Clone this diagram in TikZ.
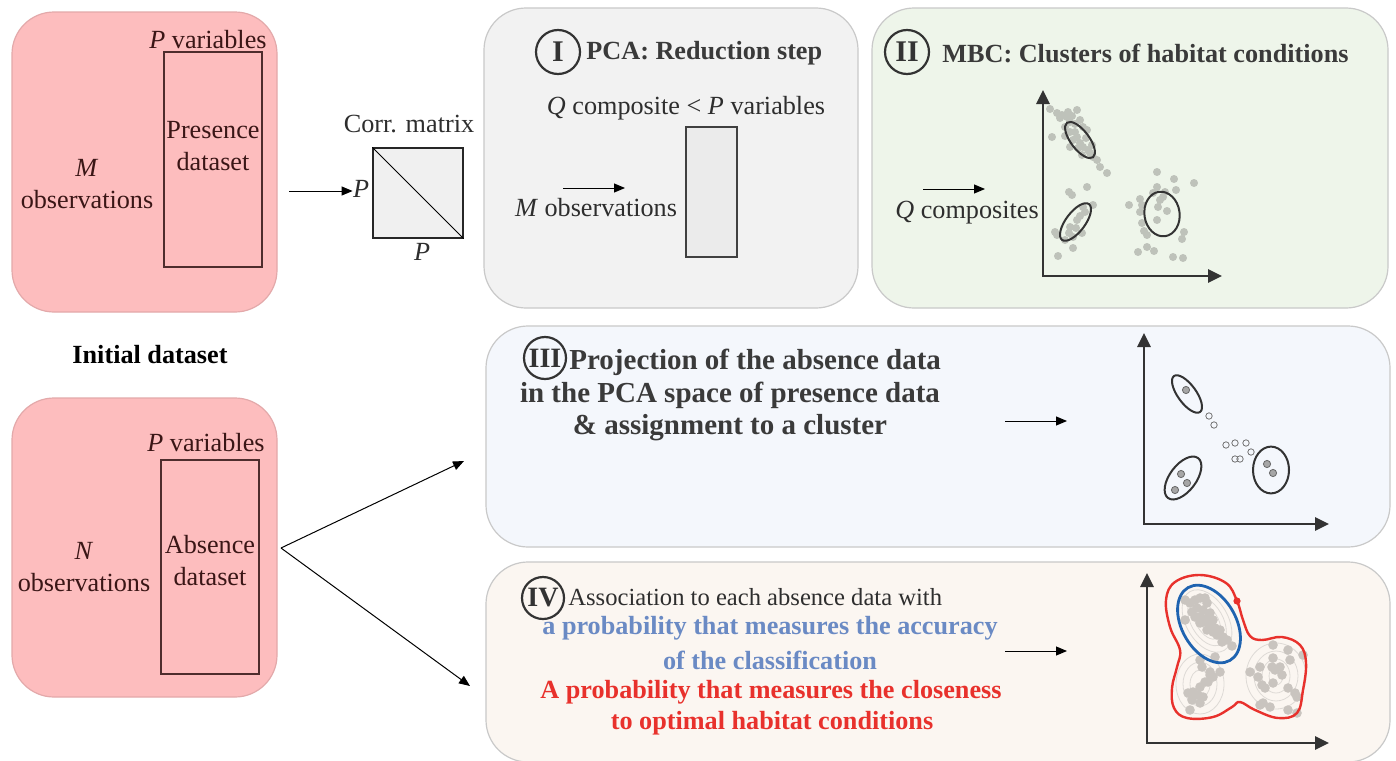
\documentclass[tikz,border=0pt]{standalone}
\usepackage{fontspec}
\setmainfont{Liberation Serif}
\usetikzlibrary{arrows.meta,shapes.geometric}
\definecolor{pinkf}{HTML}{FDBDBE}
\definecolor{pinkb}{HTML}{E3A9AA}
\definecolor{pinkt}{HTML}{3A1616}
\definecolor{bordc}{HTML}{C9C9C9}
\definecolor{pcaf}{HTML}{F2F2F2}
\definecolor{mbcf}{HTML}{EEF5EA}
\definecolor{iiif}{HTML}{F4F7FC}
\definecolor{ivf}{HTML}{FBF6F1}
\definecolor{matf}{HTML}{F0F0F0}
\definecolor{qrf}{HTML}{EBEBEB}
\definecolor{txtc}{HTML}{2E2E2E}
\definecolor{ttlc}{HTML}{3A3A3A}
\definecolor{axc}{HTML}{333333}
\definecolor{dotg}{HTML}{BEC2BA}
\definecolor{dotiv}{HTML}{C9C4BF}
\definecolor{contc}{HTML}{DEDAD6}
\definecolor{bluet}{HTML}{6A8AC4}
\definecolor{redt}{HTML}{E8312C}
\definecolor{bluel}{HTML}{1F63B0}
\definecolor{redl}{HTML}{E8312C}
\definecolor{darkdot}{HTML}{A6A6A6}
\begin{document}
\begin{tikzpicture}[x=0.5pt,y=-0.5pt,
  every node/.style={inner sep=0pt},
  txt/.style={font=\fontsize{13.1}{16}\selectfont, text=txtc},
  ptxt/.style={font=\fontsize{13.1}{16}\selectfont, text=pinkt},
  ttl/.style={font=\fontsize{13.1}{16}\selectfont\bfseries, text=ttlc},
  ttliii/.style={font=\fontsize{14.5}{16.5}\selectfont\bfseries, text=ttlc},
  panel/.style={rectangle, rounded corners=21pt, line width=0.6pt, draw=bordc},
  dsrect/.style={rectangle, draw=pinkt!90, line width=0.8pt},
  numc/.style={circle, draw=axc, line width=1.1pt, minimum size=22pt, font=\fontsize{15}{15}\selectfont\bfseries, text=axc},
  thinarr/.style={line width=0.5pt, draw=black, -{Triangle[length=5.5pt,width=4.5pt]}},
  axis/.style={line width=1.4pt, draw=axc, {Triangle[length=7pt,width=6.5pt]}-{Triangle[length=7pt,width=6.5pt]}},
  ell/.style={line width=1pt, draw=axc}
]
\useasboundingbox (0,0) rectangle (1396,760);
\fill[white] (0,0) rectangle (1396,760);

% ---------- Top-left: presence dataset ----------
\node[panel, fill=pinkf, draw=pinkb, minimum width=132.5pt, minimum height=150pt] (topbox) at (144.5,162) {};
\node[dsrect, minimum width=49pt, minimum height=107.5pt] (pres) at (213,159.5) {};
\node[ptxt] (pvar1) at (208,40) {\textit{P} variables};
\node[ptxt, align=center] (prestxt) at (213,146) {Presence\\dataset};
\node[ptxt, align=center] (mobs1) at (87,184) {\textit{M}\\observations};

% ---------- Corr. matrix ----------
\node[draw=black!85, fill=matf, minimum size=45pt, line width=0.7pt] (corr) at (418,193) {};
\draw[line width=0.4pt] (corr.north west) -- (corr.south east);
\node[txt] (corrlbl) at (409,124) {Corr. matrix};
\node[txt] (pleft) at (361,189) {\textit{P}};
\node[txt] (pbot) at (422,252) {\textit{P}};
\coordinate (a1s) at (289,191);
\draw[thinarr] (a1s) -- (a1s -| pleft.west);

% ---------- Initial dataset ----------
\node[ttl, text=black] (init) at (150,355) {Initial dataset};

% ---------- Bottom-left: absence dataset ----------
\node[panel, fill=pinkf, draw=pinkb, minimum width=132.5pt, minimum height=149.5pt] (botbox) at (144.5,547.5) {};
\node[dsrect, minimum width=49pt, minimum height=107pt] (absr) at (210,567) {};
\node[ptxt] (pvar2) at (206,443) {\textit{P} variables};
\node[ptxt, align=center] (abstxt) at (210,561) {Absence\\dataset};
\node[ptxt, align=center] (nobs) at (84,567) {\textit{N}\\observations};
\coordinate (fork) at (281,548);
\coordinate (toiii) at (464,461);
\coordinate (toiv) at (470,686);
\draw[thinarr] (fork) -- (toiii);
\draw[thinarr] (fork) -- (toiv);

% ---------- I: PCA ----------
\node[panel, fill=pcaf, minimum width=187pt, minimum height=150pt] (pca) at (671,158) {};
\node[numc] (n1) at (558,52) {I};
\node[ttl, anchor=west] (t1) at (586,53) {PCA: Reduction step};
\node[txt] (qcomp) at (686,108) {\textit{Q} composite < \textit{P} variables};
\node[draw=black!75, fill=qrf, line width=0.7pt, minimum width=25.5pt, minimum height=65pt] (qrect) at (711.5,192) {};
\coordinate (a2s) at (563,188);
\coordinate (a2e) at (625,188);
\draw[thinarr] (a2s) -- (a2e);
\node[txt] (mobs2) at (596,208) {\textit{M} observations};

% ---------- II: MBC ----------
\node[panel, fill=mbcf, minimum width=258pt, minimum height=150pt] (mbc) at (1130,158) {};
\node[numc] (n2) at (907,52) {II};
\node[ttl, anchor=west] (t2) at (942,53) {MBC: Clusters of habitat conditions};
\coordinate (a3s) at (923,189);
\coordinate (a3e) at (985,189);
\draw[thinarr] (a3s) -- (a3e);
\node[txt] (qcs) at (967,213) {\textit{Q} composites};
\coordinate (y2) at (1043,90);
\coordinate (o2) at (1043,276);
\coordinate (x2) at (1222,276);
\foreach \p in {(1050,109),(1057,113),(1062,115),(1067,117),(1077,110),(1070,122),(1075,124),(1065,127),(1070,132),(1083,127),(1087,130),(1052,137),(1065,136),(1077,137),(1080,143),(1073,140),(1083,147),(1090,153),(1093,157),(1097,160),(1100,167),(1107,173),(1088,150),(1078,148),(1070,147),
 (1060,118),(1072,116),(1080,120),(1086,138),(1075,132),(1082,155),(1092,145),(1068,112),
 (1069,192),(1072,195),(1087,187),(1093,205),(1083,207),(1080,216),(1077,220),(1070,227),(1069,233),(1065,240),(1057,235),(1055,232),(1073,248),(1058,256),(1073,237),(1082,233),(1076,228),(1085,212),
 (1157,172),(1174,179),(1194,183),(1176,190),(1157,187),(1140,199),(1129,205),(1140,212),(1160,200),(1163,197),(1167,211),(1157,220),(1142,223),(1144,231),(1147,235),(1184,232),(1182,239),(1138,252),(1147,247),(1154,251),(1173,257),(1183,258),(1158,207),(1153,193),(1142,205),(1165,192)}
  \fill[dotg] \p circle (2pt);
\draw[ell, rotate around={-53:(1080,140)}] (1080,140) ellipse [x radius=10.8pt, y radius=4.6pt];
\draw[ell, rotate around={53:(1075.5,222)}] (1075.5,222) ellipse [x radius=11.2pt, y radius=4.8pt];
\draw[ell, rotate around={8:(1162,214)}] (1162,214) ellipse [x radius=8.8pt, y radius=11.2pt];
\draw[axis] (y2) -- (o2) -- (x2);

% ---------- III: projection ----------
\node[panel, fill=iiif, minimum width=452pt, minimum height=110.5pt] (iii) at (938,436.5) {};
\node[numc, minimum size=21pt, font=\fontsize{14}{14}\selectfont\bfseries] (n3) at (545,358) {III};
\node[ttliii, anchor=west] (t3a) at (569,362) {Projection of the absence data};
\node[ttliii] (t3b) at (730,395) {in the PCA space of presence data};
\node[ttliii] (t3c) at (730,428) {\& assignment to a cluster};
\coordinate (a4s) at (1005,421);
\coordinate (a4e) at (1067,421);
\draw[thinarr] (a4s) -- (a4e);
\coordinate (y3) at (1144,333);
\coordinate (o3) at (1144,524);
\coordinate (x3) at (1329,524);
\draw[ell, rotate around={-54:(1187,394)}] (1187,394) ellipse [x radius=11.1pt, y radius=4.6pt];
\draw[ell, rotate around={53:(1183,478)}] (1183,478) ellipse [x radius=12.5pt, y radius=6.6pt];
\draw[ell] (1271,470) ellipse [x radius=9pt, y radius=11.7pt];
\foreach \p in {(1186,390),(1181,474),(1187,483),(1175,490),(1267,464),(1273,473)}
  \filldraw[fill=darkdot, draw=black!60, line width=0.4pt] \p circle (1.8pt);
\foreach \p in {(1209,416),(1214,425),(1226,445),(1235,443),(1246,443),(1251,452),(1235,459),(1240,459)}
  \draw[draw=black!55, line width=0.4pt] \p circle (1.6pt);
\draw[axis] (y3) -- (o3) -- (x3);

% ---------- IV: association ----------
\node[panel, fill=ivf, minimum width=452pt, minimum height=100pt] (iv) at (938,662) {};
\node[numc, minimum size=21pt, font=\fontsize{14}{14}\selectfont\bfseries] (n4) at (543,598) {IV};
\node[txt, font=\fontsize{12.3}{16}\selectfont, anchor=west] (t4a) at (568,597) {Association to each absence data with};
\node[ttl, text=bluet] (t4b) at (770,628) {a probability that measures the accuracy};
\node[ttl, text=bluet] (t4c) at (770,660) {of the classification};
\node[ttl, text=redt] (t4d) at (771,692) {A probability that measures the closeness};
\node[ttl, text=redt] (t4e) at (772,723) {to optimal habitat conditions};
\coordinate (a5s) at (1005,651);
\coordinate (a5e) at (1067,651);
\draw[thinarr] (a5s) -- (a5e);
\coordinate (y4) at (1147,573);
\coordinate (o4) at (1147,743);
\coordinate (x4) at (1329,743);
% faint density contours
\begin{scope}[draw=contc, line width=0.4pt]
  \foreach \a/\b in {34/21,27/16,20/11,13/7,7/4}
    \draw[rotate around={-60:(1207,621)}] (1207,621) ellipse [x radius=\a*0.5pt, y radius=\b*0.5pt];
  \foreach \a/\b in {24/30,17/22,10/14}
    \draw (1200,684) ellipse [x radius=\a*0.5pt, y radius=\b*0.5pt];
  \foreach \a/\b in {30/33,22/25,14/17,7/9}
    \draw (1276,676) ellipse [x radius=\a*0.5pt, y radius=\b*0.5pt];
\end{scope}
\foreach \p in {(1185,600),(1190,603),(1195,600),(1200,598),(1205,598),(1207,603),(1197,608),(1192,612),(1203,610),(1210,613),(1200,617),(1207,618),(1213,620),(1203,622),(1210,625),(1215,628),(1220,630),(1217,635),(1223,637),(1227,640),(1232,646),(1185,620),(1195,617),(1200,623),(1213,632),(1207,630),(1222,642),(1215,657),
 (1200,660),(1202,667),(1210,672),(1213,677),(1208,682),(1220,672),(1200,687),(1193,692),(1188,693),(1198,695),(1203,697),(1192,700),(1200,703),(1190,710),(1210,675),(1205,682),
 (1273,645),(1288,650),(1290,660),(1303,655),(1273,658),(1260,667),(1250,672),(1258,677),(1272,667),(1275,670),(1282,675),(1273,683),(1262,685),(1265,688),(1288,688),(1295,693),(1297,697),(1263,703),(1260,705),(1270,707),(1288,710),(1297,713),(1280,667)}
  \fill[dotiv] \p circle (2.4pt);
\draw[redl, line width=1.2pt] plot[smooth cycle, tension=0.65] coordinates {(1200,575) (1226,583) (1237,601) (1243,620) (1250,636) (1262,640) (1282,637) (1300,645) (1306,663) (1303,690) (1297,713) (1278,718) (1255,710) (1240,702) (1232,707) (1213,717) (1187,718) (1174,708) (1172,688) (1177,667) (1180,650) (1170,627) (1166,600) (1175,582)};
\draw[bluel, line width=1.4pt, rotate around={-60:(1209,624)}] (1209,624) ellipse [x radius=21pt, y radius=13.5pt];
\fill[redl] (1237,601) circle (1.8pt);
\draw[axis] (y4) -- (o4) -- (x4);
\end{tikzpicture}
\end{document}
